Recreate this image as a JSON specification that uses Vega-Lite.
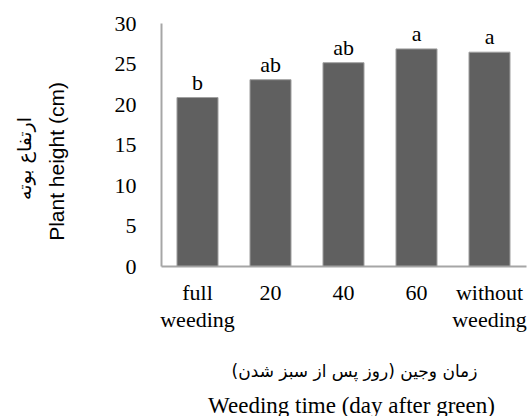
{
  "$schema": "https://vega.github.io/schema/vega-lite/v6.json",
  "width": 365,
  "height": 243,
  "autosize": {"type": "none"},
  "padding": {"left": 161, "top": 23, "right": 3, "bottom": 150},
  "background": "white",
  "config": {"view": {"stroke": null}},
  "data": {
    "values": [
      {"treatment": "full weeding", "height": 20.8, "letter": "b"},
      {"treatment": "20", "height": 23.0, "letter": "ab"},
      {"treatment": "40", "height": 25.1, "letter": "ab"},
      {"treatment": "60", "height": 26.8, "letter": "a"},
      {"treatment": "without weeding", "height": 26.4, "letter": "a"}
    ]
  },
  "layer": [
    {
      "mark": {"type": "bar", "color": "#606060", "stroke": "#a0a0a0", "strokeWidth": 1},
      "encoding": {
        "x": {
          "field": "treatment", "type": "nominal", "sort": null,
          "scale": {"paddingInner": 0.438, "paddingOuter": 0.219},
          "axis": {
            "title": "Weeding time (day after green)",
            "titleFont": "Liberation Serif", "titleFontSize": 23, "titleFontWeight": "normal", "titleColor": "black",
            "titleX": 190, "titleY": 139, "titleBaseline": "middle", "titleAlign": "center",
            "labelAngle": 0, "labelFont": "Liberation Serif", "labelFontSize": 22, "labelColor": "black",
            "labelExpr": "split(datum.label, ' ')", "labelLineHeight": 27, "labelPadding": 16,
            "ticks": false, "domainColor": "#a6a6a6", "domainWidth": 2, "grid": false
          }
        },
        "y": {
          "field": "height", "type": "quantitative",
          "scale": {"domain": [0, 30], "nice": false},
          "axis": {
            "values": [0, 5, 10, 15, 20, 25, 30],
            "title": "Plant height (cm)",
            "titleFont": "Liberation Sans", "titleFontSize": 21, "titleFontWeight": "normal", "titleColor": "black",
            "titleX": -104, "titleY": 138, "titleAngle": -90, "titleBaseline": "middle", "titleAlign": "center",
            "labelFont": "Liberation Serif", "labelFontSize": 22, "labelColor": "black", "labelPadding": 25,
            "ticks": false, "domainColor": "#a6a6a6", "domainWidth": 2, "grid": false
          }
        }
      }
    },
    {
      "mark": {"type": "text", "font": "Liberation Serif", "fontSize": 22, "color": "black", "baseline": "bottom", "dy": -3},
      "encoding": {
        "x": {
          "field": "treatment", "type": "nominal", "sort": null,
          "axis": {
            "orient": "bottom", "title": "زمان وجین (روز پس از سبز شدن)",
            "titleFont": "DejaVu Sans", "titleFontSize": 17, "titleFontWeight": "normal", "titleColor": "black",
            "titleX": 193, "titleY": 105, "titleBaseline": "middle", "titleAlign": "center",
            "labels": false, "ticks": false, "domain": false, "grid": false
          }
        },
        "y": {
          "field": "height", "type": "quantitative",
          "axis": {
            "orient": "left", "title": "ارتفاع بوته",
            "titleFont": "DejaVu Sans", "titleFontSize": 19, "titleFontWeight": "normal", "titleColor": "black",
            "titleX": -137, "titleY": 135, "titleAngle": -90, "titleBaseline": "middle", "titleAlign": "center",
            "labels": false, "ticks": false, "domain": false, "grid": false
          }
        },
        "text": {"field": "letter"}
      }
    }
  ],
  "resolve": {"axis": {"x": "independent", "y": "independent"}}
}
